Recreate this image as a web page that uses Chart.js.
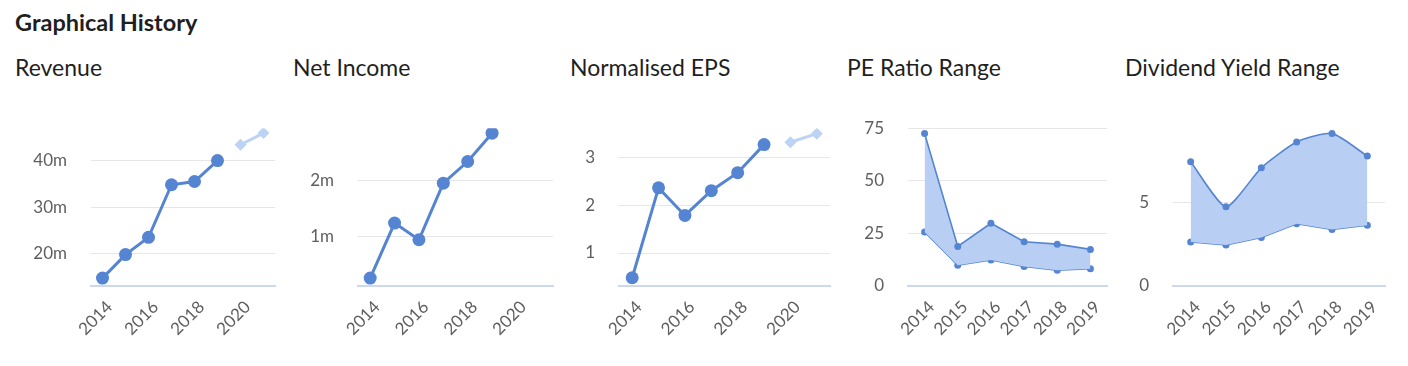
<!DOCTYPE html>
<html>
<head>
<meta charset="utf-8">
<script src="https://cdn.jsdelivr.net/npm/chart.js@4.4.1/dist/chart.umd.min.js"></script>
<style>
    body { margin: 0; background: #fff; font-family: Lato, "Open Sans", sans-serif; color: #1f1f1f; }
    .page { position: relative; width: 1408px; height: 366px; overflow: hidden; }
    .heading { position: absolute; left: 15px; top: 8px; font-size: 23.5px; font-weight: bold; line-height: 28px; }
    .panel { position: absolute; top: 0; width: 277px; height: 366px; }
    .panel h3 { position: absolute; left: 0; top: 52px; margin: 0; font-size: 23px; font-weight: normal; line-height: 30px; white-space: nowrap; }
    .panel .box { position: absolute; left: 0; top: 94px; width: 277px; height: 256px; }
</style>
</head>
<body>
<div class="page">
    <div class="heading">Graphical History</div>
    <div class="panel" style="left:15px"><h3>Revenue</h3><div class="box"><canvas id="c1"></canvas></div></div>
    <div class="panel" style="left:293px"><h3>Net Income</h3><div class="box"><canvas id="c2"></canvas></div></div>
    <div class="panel" style="left:570px"><h3>Normalised EPS</h3><div class="box"><canvas id="c3"></canvas></div></div>
    <div class="panel" style="left:847px"><h3>PE Ratio Range</h3><div class="box"><canvas id="c4"></canvas></div></div>
    <div class="panel" style="left:1125px"><h3>Dividend Yield Range</h3><div class="box"><canvas id="c5"></canvas></div></div>
</div>
<script>
var years = ["2014", "2015", "2016", "2017", "2018", "2019", "2020", "2021"];
var rangeYears = ["2014", "2015", "2016", "2017", "2018", "2019"];

var revenue = [14.75, 19.8, 23.5, 34.8, 35.5, 40.0, null, null];
var revenueForecast = [null, null, null, null, null, null, 43.4, 45.9];
var revenueTicks = [20, 30, 40];

var netIncome = [0.25, 1.24, 0.94, 1.96, 2.35, 2.86, null, null];
var netIncomeTicks = [1, 2];

var eps = [0.48, 2.37, 1.79, 2.31, 2.69, 3.28, null, null];
var epsForecast = [null, null, null, null, null, null, 3.33, 3.51];
var epsTicks = [1, 2, 3];

var peHigh = [72.5, 18.8, 29.8, 21.0, 19.9, 17.4];
var peLow = [25.7, 9.9, 12.4, 9.3, 7.5, 8.2];
var peTicks = [0, 25, 50, 75];

var yieldHigh = [7.43, 4.74, 7.07, 8.61, 9.13, 7.77];
var yieldLow = [2.63, 2.45, 2.90, 3.73, 3.38, 3.64];
var yieldTicks = [0, 5];

var blue = "#5585d2";
var lightBlue = "#bcd3f5";
var fillBlue = "#b8cff3";

function lineSet(data) {
    return {
        data: data,
        borderColor: blue,
        backgroundColor: blue,
        borderWidth: 3,
        pointRadius: 6.5,
        pointBorderWidth: 0,
        tension: 0
    };
}

function forecastSet(data) {
    return {
        data: data,
        borderColor: lightBlue,
        backgroundColor: lightBlue,
        borderWidth: 3,
        pointStyle: "rectRot",
        pointRadius: 6,
        pointBorderWidth: 0,
        tension: 0
    };
}

function rangeSets(high, low, tension) {
    return [{
        data: high,
        borderColor: blue,
        backgroundColor: fillBlue,
        pointBackgroundColor: blue,
        borderWidth: 1.6,
        pointRadius: 3.5,
        pointBorderWidth: 0,
        fill: "+1",
        tension: tension
    }, {
        data: low,
        borderColor: blue,
        backgroundColor: blue,
        borderWidth: 1.6,
        pointRadius: 3.5,
        pointBorderWidth: 0,
        fill: false,
        tension: 0
    }];
}

function makeChart(id, labels, datasets, yMin, yMax, yTicks, suffix, evenOnly, yWidth) {
    new Chart(document.getElementById(id), {
        type: "line",
        data: { labels: labels, datasets: datasets },
        options: {
            responsive: true,
            maintainAspectRatio: false,
            animation: false,
            events: [],
            layout: { padding: { left: 0, right: 17, top: 20, bottom: 14 } },
            plugins: { legend: { display: false }, tooltip: { enabled: false } },
            scales: {
                x: {
                    offset: true,
                    grid: { display: false },
                    border: { display: true, color: "#ccd8ef", width: 2 },
                    afterFit: function (scale) { scale.height = 50; },
                    ticks: {
                        autoSkip: false,
                        minRotation: 45,
                        maxRotation: 45,
                        padding: 3,
                        labelOffset: 7,
                        color: "#5f5f5f",
                        font: { family: "Lato", size: 17 },
                        callback: function (value, index) {
                            if (evenOnly && index % 2) return "";
                            return this.getLabelForValue(value);
                        }
                    }
                },
                y: {
                    min: yMin,
                    max: yMax,
                    border: { display: false },
                    grid: { color: "#e6e6e6", lineWidth: 1, drawTicks: false },
                    afterBuildTicks: function (scale) {
                        scale.ticks = yTicks.map(function (v) { return { value: v }; });
                    },
                    afterFit: function (scale) { scale.width = yWidth; },
                    ticks: {
                        padding: 24,
                        color: "#5f5f5f",
                        font: { family: "Lato", size: 17 },
                        callback: function (value) { return value + suffix; }
                    }
                }
            }
        }
    });
}

makeChart("c1", years, [lineSet(revenue), forecastSet(revenueForecast)], 13.05, 46.95, revenueTicks, "m", true, 76);
makeChart("c2", years, [lineSet(netIncome)], 0.107, 2.95, netIncomeTicks, "m", true, 65);
makeChart("c3", years, [lineSet(eps), forecastSet(epsForecast)], 0.306, 3.625, epsTicks, "", true, 49);
makeChart("c4", rangeYears, rangeSets(peHigh, peLow, 0), 0, 75, peTicks, "", false, 61);
makeChart("c5", rangeYears, rangeSets(yieldHigh, yieldLow, 0.2), 0, 9.44, yieldTicks, "", false, 48);
</script>
</body>
</html>
